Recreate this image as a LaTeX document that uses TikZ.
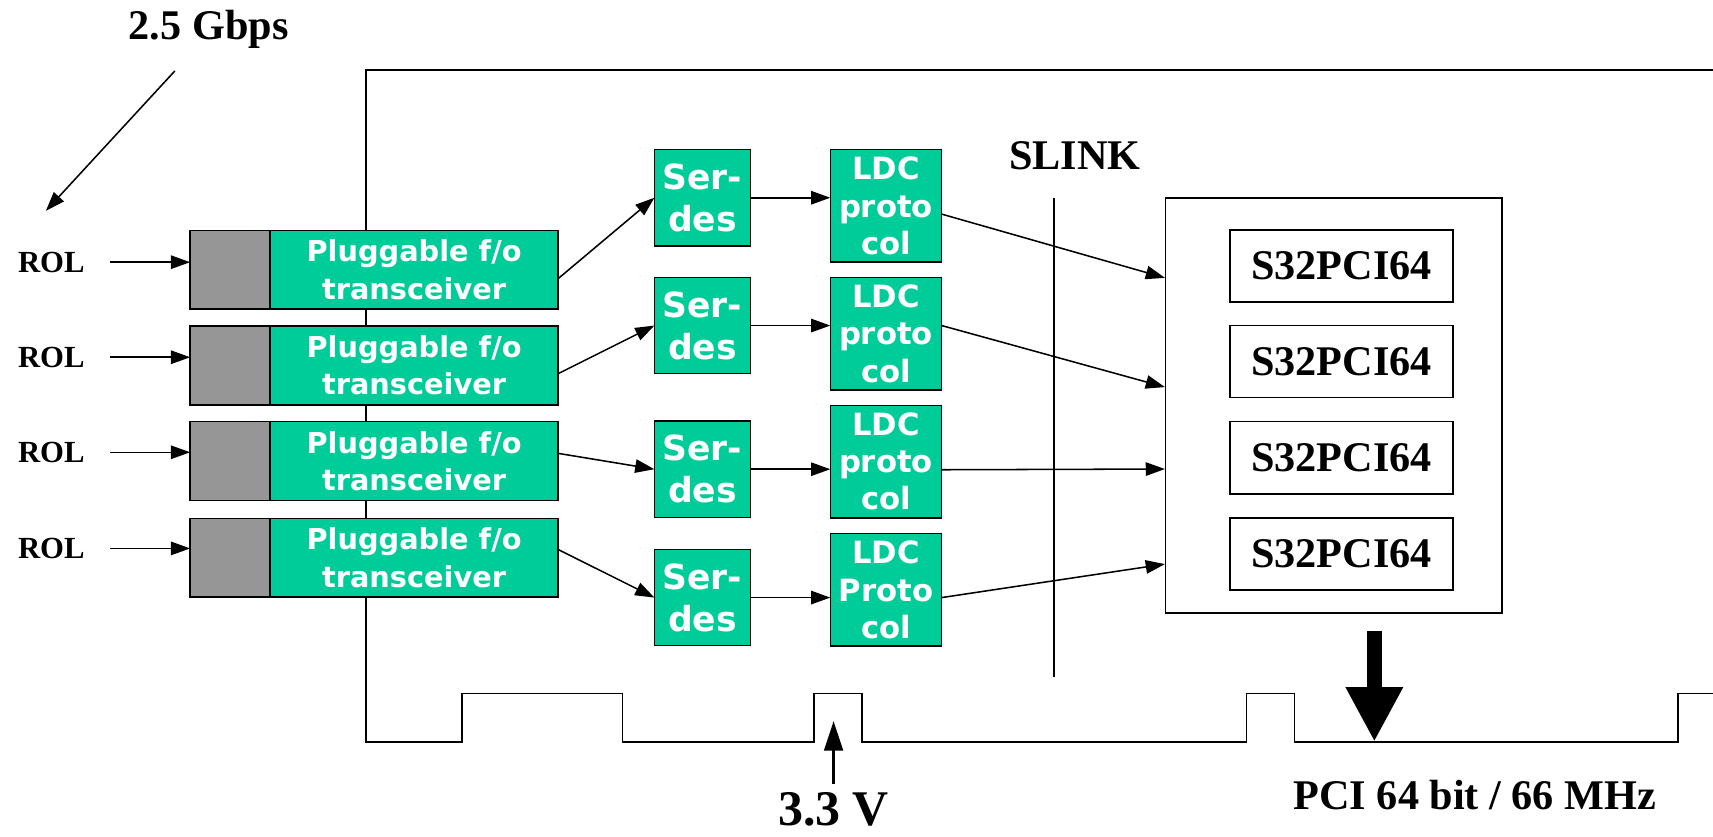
\documentclass[tikz,border=0pt]{standalone}
\usepackage{fontspec}
\setmainfont{Liberation Serif}
\newfontfamily\verdfont{DejaVu Sans}
\usepackage{tikz}
\usetikzlibrary{positioning,arrows.meta,calc}

\definecolor{fogreen}{RGB}{0,204,153}
\definecolor{plugray}{RGB}{150,150,150}

\begin{document}
\begin{tikzpicture}[
      x=0.02cm, y=-0.02cm,
      lbl/.style={inner sep=0pt, font=\fontsize{22}{26}\selectfont\bfseries},
      rol/.style={inner sep=0pt, font=\fontsize{16}{19}\selectfont\bfseries},
      gbox/.style={draw, line width=0.8pt, fill=fogreen, text=white, align=center, inner sep=0pt, outer sep=0pt},
      plug/.style={gbox, minimum width=5.28cm, minimum height=1.44cm, font=\verdfont\bfseries\fontsize{15}{19.4}\selectfont},
      conn/.style={draw, line width=0.8pt, fill=plugray, minimum width=1.46cm, minimum height=1.44cm, inner sep=0pt, outer sep=0pt},
      serdes/.style={gbox, minimum width=1.76cm, minimum height=1.76cm, font=\verdfont\bfseries\fontsize{18}{22}\selectfont},
      ldc/.style={gbox, minimum width=2.04cm, minimum height=2.06cm, font=\verdfont\bfseries\fontsize{16}{19.4}\selectfont},
      chip/.style={draw, line width=0.8pt, fill=white, minimum width=4.08cm, minimum height=1.32cm, inner sep=0pt, font=\fontsize{22}{26}\selectfont\bfseries},
      arrow/.style={-{Triangle[length=10pt,width=7pt]}, line width=0.8pt},
      varrow/.style={-{Triangle[length=0.54cm,width=0.34cm]}, line width=1.6pt},
      bigarrow/.style={-{Triangle[length=1cm,width=0.98cm]}, line width=0.28cm},
    ]
      \useasboundingbox (0,0) rectangle (1568,766);

      % board outline with edge connector
      \draw[line width=0.8pt] (1568,64) -- (335,64) -- (335,679) -- (423,679) -- (423,635) -- (570,635)
        -- (570,679) -- (745,679) -- (745,635) -- (789,635) -- (789,679) -- (1141,679) -- (1141,635)
        -- (1185,635) -- (1185,679) -- (1536,679) -- (1536,635) -- (1568,635);

      % transceivers
      \node[plug] (tr1) at (379,247) {Pluggable f/o\\transceiver};
      \node[plug] (tr2) at (379,334.5) {Pluggable f/o\\transceiver};
      \node[plug] (tr3) at (379,422) {Pluggable f/o\\transceiver};
      \node[plug] (tr4) at (379,510.5) {Pluggable f/o\\transceiver};
      \node[conn, left=0pt of tr1] (cn1) {};
      \node[conn, left=0pt of tr2] (cn2) {};
      \node[conn, left=0pt of tr3] (cn3) {};
      \node[conn, left=0pt of tr4] (cn4) {};

      % serdes and LDC protocol
      \node[serdes] (sd1) at (643,181) {Ser-\\des};
      \node[serdes] (sd2) at (643,298) {Ser-\\des};
      \node[serdes] (sd3) at (643,429.5) {Ser-\\des};
      \node[serdes] (sd4) at (643,547) {Ser-\\des};
      \node[ldc] (ld1) at (811,188.5) {LDC\\proto\\col};
      \node[ldc] (ld2) at (811,305.5) {LDC\\proto\\col};
      \node[ldc] (ld3) at (811,422.5) {LDC\\proto\\col};
      \node[ldc] (ld4) at (811,540) {LDC\\Proto\\col};

      % PCI side
      \node[draw, line width=0.8pt, minimum width=6.16cm, minimum height=7.6cm] (card) at (1221,371) {};
      \node[chip] (ch1) at (1228,243.5) {S32PCI64};
      \node[chip] (ch2) at (1228,331) {S32PCI64};
      \node[chip] (ch3) at (1228,419) {S32PCI64};
      \node[chip] (ch4) at (1228,507) {S32PCI64};

      \node[lbl] (slink) at (984,143) {SLINK};
      \draw[line width=0.8pt] (965,181) -- (965,620);

      % labels
      \node[lbl] (gbps) at (191,27) {2.5 Gbps};
      \node[rol] (rol1) at (47,240) {ROL};
      \node[rol] (rol2) at (47,327) {ROL};
      \node[rol] (rol3) at (47,414) {ROL};
      \node[rol] (rol4) at (47,502) {ROL};
      \node[lbl] (pci) at (1350,728) {PCI 64 bit / 66 MHz};
      \node[inner sep=0pt, font=\fontsize{26}{31}\selectfont\bfseries] (volt) at (763,741) {3.3 V};
      \coordinate (vtip) at (763,660);
      \coordinate (pcitip) at (1258,679);

      \draw[arrow] ([shift={(-31,38)}]gbps.center) -- ([shift={(-5,-47)}]rol1.center);
      \draw[arrow] ([xshift=0.46cm]rol1.east) -- (rol1 -| cn1.west);
      \draw[arrow] ([xshift=0.46cm]rol2.east) -- (rol2 -| cn2.west);
      \draw[arrow] ([xshift=0.46cm]rol3.east) -- (rol3 -| cn3.west);
      \draw[arrow] ([xshift=0.46cm]rol4.east) -- (rol4 -| cn4.west);

      \draw[arrow] ([yshift=-0.16cm]tr1.east) -- (sd1.west);
      \draw[arrow] ([yshift=-0.15cm]tr2.east) -- (sd2.west);
      \draw[arrow] ([yshift=0.14cm]tr3.east) -- (sd3.west);
      \draw[arrow] ([yshift=0.15cm]tr4.east) -- (sd4.west);

      \draw[arrow] (sd1.east) -- (sd1.east -| ld1.west);
      \draw[arrow] (sd2.east) -- (sd2.east -| ld2.west);
      \draw[arrow] (sd3.east) -- (sd3.east -| ld3.west);
      \draw[arrow] (sd4.east) -- (sd4.east -| ld4.west);

      \draw[arrow] ([yshift=-0.15cm]ld1.east) -- ($(card.north west)+(0,74)$);
      \draw[arrow] ([yshift=0.15cm]ld2.east) -- ($(card.north west)+(0,174)$);
      \draw[arrow] ([yshift=-0.15cm]ld3.east) -- ($(card.north west)+(0,249)$);
      \draw[arrow] ([yshift=-0.14cm]ld4.east) -- ($(card.north west)+(0,336)$);

      \draw[bigarrow] ($(card.south)+(37,16)$) -- (pcitip);
      \draw[varrow] ([yshift=0.16cm]volt.north) -- (vtip);
    \end{tikzpicture}
\end{document}
